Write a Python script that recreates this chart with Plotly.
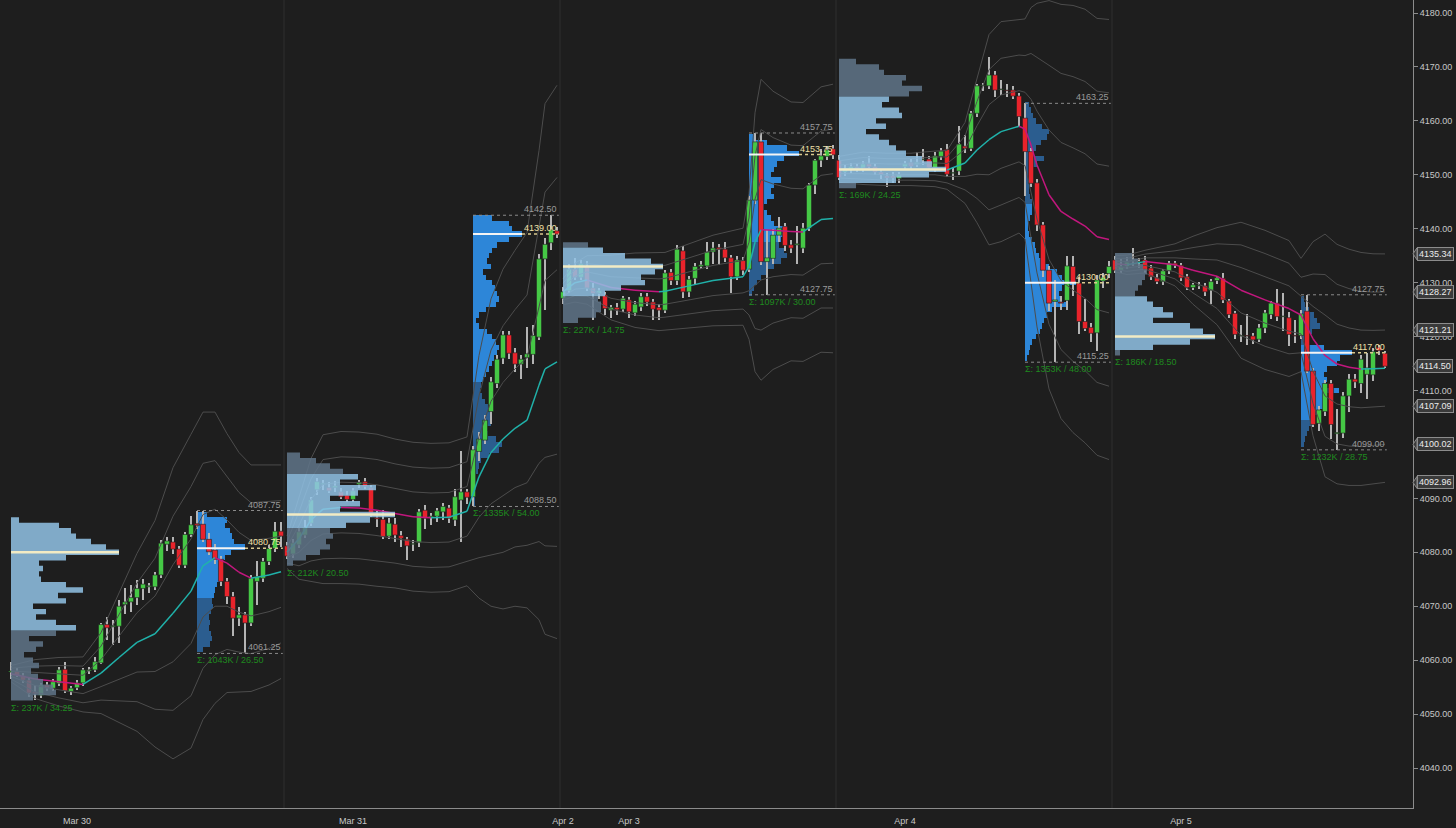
import plotly.graph_objects as go

# ---------------- layout of the data ----------------
session_start = [0, 46, 92, 138, 184]      # first 30-min bar of each session (18:00)
rth_offset = 31                            # 09:30 bar inside a session
tick_pos = [11, 57, 92, 103, 149, 195]
tick_text = ["Mar 30", "Mar 31", "Apr 2", "Apr 3", "Apr 4", "Apr 5"]

# ---------------- OHLC (30 min bars) ----------------
s1_o = [4057.8,4058.0,4057.1,4056.3,4054.1,4053.5,4055.4,4054.8,4055.7,4058.3,4054.2,4054.9,4055.8,4058.0,4058.2,4059.5,4066.6,4066.2,4066.3,4070.3,4070.8,4071.6,4073.3,4073.6,4073.6,4075.8,4081.5,4081.9,4080.6,4077.6,4083.3,4085.3,4085.2,4082.4,4080.4,4078.7,4074.6,4071.8,4067.8,4068.4,4066.9,4074.6,4075.2,4078.3,4080.7,4083.9]
s1_h = [4059.6,4058.6,4057.6,4056.8,4055.4,4055.8,4056.0,4056.6,4058.8,4059.7,4055.3,4056.3,4058.6,4058.7,4060.5,4066.9,4068.0,4067.4,4071.2,4073.4,4074.0,4074.8,4075.0,4074.4,4076.3,4082.3,4082.9,4082.8,4081.2,4083.8,4086.8,4087.6,4087.75,4083.5,4081.5,4079.4,4075.3,4072.6,4069.8,4069.0,4075.8,4078.4,4079.0,4081.4,4085.6,4085.6]
s1_l = [4056.6,4056.8,4055.8,4053.2,4052.6,4052.9,4054.3,4054.3,4055.2,4053.9,4053.6,4054.5,4055.3,4057.4,4057.8,4059.2,4063.7,4062.8,4063.2,4068.5,4069.0,4070.2,4071.2,4072.4,4073.0,4075.2,4080.2,4079.6,4077.0,4077.0,4082.8,4084.4,4081.9,4079.5,4077.9,4073.7,4070.5,4064.5,4066.4,4061.25,4066.3,4070.2,4074.5,4077.6,4080.1,4081.0]
s1_c = [4058.0,4057.2,4056.3,4053.9,4053.8,4055.4,4054.8,4056.0,4058.2,4054.3,4054.8,4055.8,4058.2,4058.2,4059.7,4066.6,4066.0,4066.4,4070.0,4070.8,4071.6,4073.3,4074.1,4073.8,4075.8,4081.7,4082.1,4080.6,4077.6,4083.3,4085.1,4085.0,4082.4,4080.1,4078.7,4074.6,4071.8,4067.8,4068.4,4066.9,4075.2,4075.5,4078.3,4080.7,4083.9,4083.0]

s2_o = [4081.2,4079.7,4081.4,4083.2,4085.4,4091.6,4092.6,4092.0,4092.0,4091.2,4090.6,4089.8,4092.6,4093.1,4092.0,4086.4,4086.1,4083.0,4085.2,4083.1,4082.4,4081.5,4081.8,4087.8,4086.5,4086.7,4087.5,4088.2,4086.0,4089.7,4091.2,4090.3,4098.7,4100.8,4106.1,4111.3,4116.0,4120.3,4117.0,4114.9,4116.1,4116.7,4119.9,4134.4,4137.4,4139.6]
s2_h = [4082.0,4082.5,4084.5,4086.0,4090.3,4093.8,4093.5,4093.0,4093.3,4092.0,4091.3,4092.0,4093.5,4093.8,4092.5,4087.6,4087.8,4086.3,4086.3,4084.0,4082.9,4082.3,4088.0,4088.8,4087.3,4088.2,4089.2,4088.8,4091.7,4098.7,4091.8,4099.8,4102.3,4105.5,4112.5,4116.5,4121.0,4121.0,4117.8,4116.5,4121.8,4122.2,4135.3,4138.3,4142.5,4140.3]
s2_l = [4078.8,4079.0,4080.8,4082.6,4084.8,4090.6,4091.5,4091.0,4091.2,4089.9,4089.3,4089.3,4092.0,4091.8,4086.5,4084.7,4082.5,4082.4,4082.0,4081.0,4078.6,4080.2,4081.0,4084.3,4085.0,4085.6,4086.0,4085.4,4084.8,4082.0,4089.0,4088.5,4097.0,4100.0,4103.7,4110.5,4115.0,4115.9,4113.5,4112.2,4114.1,4115.0,4119.4,4125.0,4136.0,4138.3]
s2_c = [4079.3,4081.7,4083.8,4084.6,4089.7,4093.1,4092.8,4091.4,4092.3,4090.3,4089.8,4091.4,4093.0,4092.2,4087.1,4086.2,4082.9,4085.4,4083.2,4082.6,4081.2,4081.6,4087.5,4086.3,4086.7,4087.7,4088.5,4086.3,4090.3,4091.2,4090.2,4099.0,4101.0,4104.5,4111.6,4115.8,4120.3,4116.9,4114.9,4115.8,4116.8,4120.2,4134.4,4137.1,4139.8,4139.0]

s3_o = [4127.1,4128.5,4132.5,4131.0,4133.0,4129.0,4128.0,4127.7,4124.9,4125.4,4125.1,4126.8,4124.4,4125.5,4127.4,4126.4,4125.4,4124.9,4131.9,4130.4,4135.9,4128.3,4130.8,4133.0,4133.1,4135.7,4136.5,4136.2,4134.6,4131.1,4134.1,4132.5,4145.3,4156.1,4133.9,4134.5,4138.8,4140.4,4137.0,4137.0,4136.4,4140.1,4148.1,4152.7,4153.4,4154.8]
s3_h = [4129.2,4133.5,4134.5,4134.2,4134.0,4130.0,4129.0,4128.2,4125.9,4126.2,4127.6,4127.4,4126.6,4128.0,4128.0,4127.0,4126.0,4132.3,4132.6,4137.0,4136.8,4131.2,4133.6,4134.0,4137.5,4137.5,4137.2,4137.6,4135.2,4135.0,4134.8,4146.0,4157.75,4157.75,4139.7,4140.0,4142.2,4141.0,4138.0,4140.5,4141.0,4148.5,4153.0,4154.8,4155.3,4155.5]
s3_l = [4126.0,4128.0,4130.5,4130.5,4128.5,4123.0,4127.0,4124.0,4123.5,4124.0,4124.5,4123.5,4123.8,4124.8,4125.6,4123.0,4123.0,4124.3,4129.5,4129.6,4127.2,4127.4,4129.8,4132.5,4132.5,4133.5,4133.3,4133.8,4128.0,4130.5,4131.5,4131.9,4144.5,4133.2,4127.75,4133.5,4137.5,4135.8,4135.5,4133.5,4135.5,4139.5,4146.5,4151.5,4152.8,4153.0]
s3_c = [4128.3,4132.5,4131.0,4133.5,4129.0,4128.0,4128.5,4125.2,4125.4,4125.0,4127.1,4124.6,4126.0,4127.4,4126.4,4125.1,4124.9,4131.8,4130.4,4136.2,4128.3,4130.6,4133.0,4133.3,4135.7,4136.4,4136.2,4134.6,4131.1,4134.2,4132.3,4145.3,4156.1,4133.9,4134.6,4138.8,4140.1,4136.9,4136.4,4137.2,4140.1,4148.1,4152.7,4153.5,4154.6,4153.7]

s4_o = [4152.7,4150.5,4151.0,4151.5,4151.0,4152.0,4151.5,4150.5,4149.8,4149.8,4149.3,4151.5,4152.3,4151.9,4152.8,4152.9,4151.3,4153.4,4154.7,4150.3,4150.7,4155.3,4154.9,4161.4,4166.5,4166.5,4168.5,4165.8,4165.7,4165.7,4164.6,4160.5,4154.3,4148.5,4140.7,4132.3,4126.5,4126.4,4126.7,4133.0,4129.9,4122.8,4121.7,4120.7,4130.3,4131.7]
s4_h = [4153.6,4151.8,4152.2,4152.0,4152.6,4153.5,4152.0,4151.0,4150.4,4150.6,4150.6,4152.6,4152.9,4154.2,4154.8,4153.4,4154.2,4155.0,4155.8,4151.5,4159.0,4157.4,4161.8,4166.8,4167.0,4171.8,4169.2,4167.6,4166.8,4166.4,4165.2,4163.25,4155.0,4149.2,4141.3,4133.0,4130.5,4127.5,4135.0,4135.0,4131.0,4127.0,4122.5,4131.5,4131.8,4134.0]
s4_l = [4149.0,4149.8,4150.4,4150.6,4150.5,4151.0,4150.0,4149.2,4147.7,4148.4,4148.5,4150.8,4151.0,4151.4,4151.8,4150.8,4150.5,4152.8,4149.5,4149.0,4150.0,4154.0,4154.4,4160.8,4165.5,4166.0,4164.5,4164.8,4164.5,4164.0,4158.8,4146.0,4147.8,4139.5,4131.0,4124.8,4115.25,4125.0,4125.0,4127.5,4120.5,4121.0,4119.0,4117.3,4129.0,4130.8]
s4_c = [4149.5,4151.0,4151.5,4151.0,4152.0,4151.5,4150.5,4150.0,4149.4,4149.4,4150.0,4152.1,4151.6,4152.3,4152.9,4151.3,4153.5,4154.4,4150.1,4150.4,4155.7,4154.9,4161.4,4166.5,4166.6,4168.5,4165.7,4165.9,4165.6,4164.6,4160.8,4154.3,4148.4,4140.7,4132.3,4126.2,4126.8,4126.2,4133.1,4130.0,4122.8,4121.5,4120.6,4130.5,4131.0,4133.0]

s5_o = [4134.2,4132.3,4133.0,4134.0,4133.8,4134.2,4132.7,4130.9,4130.2,4132.2,4133.6,4133.2,4131.1,4129.1,4129.4,4129.4,4128.6,4130.4,4130.8,4126.6,4124.3,4120.1,4120.2,4120.1,4119.5,4121.6,4124.1,4126.2,4123.7,4123.5,4120.2,4120.2,4124.7,4113.6,4103.9,4106.1,4111.3,4102.0,4102.1,4109.0,4112.1,4111.3,4113.0,4112.9,4118.0,4116.9]
s5_h = [4135.0,4134.3,4134.8,4136.5,4134.5,4135.0,4133.2,4131.6,4132.6,4134.0,4134.0,4133.6,4131.6,4130.0,4130.2,4129.9,4130.6,4131.3,4131.8,4127.0,4124.8,4122.2,4124.2,4120.6,4122.4,4125.0,4126.6,4128.8,4128.0,4124.5,4123.0,4125.0,4127.75,4114.2,4107.2,4112.0,4112.0,4106.5,4109.8,4113.0,4113.0,4116.5,4117.0,4117.8,4118.4,4117.4]
s5_l = [4131.8,4131.8,4132.5,4133.0,4132.8,4131.8,4130.5,4129.7,4129.5,4131.6,4132.8,4130.4,4128.6,4128.7,4128.9,4127.5,4126.0,4129.8,4126.2,4123.5,4119.6,4119.0,4118.5,4118.6,4119.0,4120.7,4123.2,4122.8,4121.0,4118.2,4118.8,4119.5,4113.2,4103.2,4102.5,4105.2,4101.0,4099.0,4101.2,4106.0,4110.4,4109.5,4108.5,4111.8,4116.6,4114.2]
s5_c = [4132.3,4133.0,4133.8,4134.2,4133.9,4132.3,4131.1,4130.2,4132.2,4133.6,4133.2,4130.9,4129.1,4129.6,4129.5,4128.3,4130.2,4130.9,4126.8,4124.1,4120.4,4120.2,4120.1,4119.4,4121.6,4124.4,4126.2,4123.7,4123.8,4120.4,4120.1,4124.2,4113.6,4103.7,4106.4,4111.3,4103.7,4102.2,4109.0,4112.1,4111.6,4115.8,4114.2,4117.2,4117.4,4114.5]

# ---------------- session VWAP and standard deviation (read at bar offsets) ----------------
vw_idx1 = [0, 4, 8, 12, 15, 18, 21, 24, 27, 30, 32, 34, 36, 38, 40, 43, 45]
vw1 = [4057.5, 4056.5, 4056.0, 4055.5, 4057.6, 4060.5, 4063.3, 4064.9, 4068.7, 4072.8, 4077.5, 4079.0, 4078.0, 4076.3, 4075.2, 4075.8, 4076.4]
sd1 = [0.5, 1.2, 1.5, 1.7, 2.5, 4.0, 5.5, 7.0, 9.0, 9.7, 9.5, 9.0, 8.0, 7.4, 7.0, 6.8, 6.6]
vw_idx2 = [0, 2, 4, 6, 9, 12, 15, 18, 21, 24, 27, 30, 32, 34, 36, 38, 40, 42, 43, 45]
vw2 = [4080.0, 4082.5, 4086.0, 4088.0, 4088.3, 4088.2, 4087.8, 4087.2, 4086.6, 4086.4, 4086.5, 4087.6, 4094.0, 4098.5, 4101.0, 4103.0, 4104.5, 4111.0, 4114.0, 4115.3]
sd2 = [1.0, 2.5, 3.8, 4.6, 4.7, 4.7, 4.7, 4.6, 4.6, 4.6, 4.6, 4.6, 7.5, 9.5, 10.5, 11.0, 11.6, 14.5, 16.4, 17.1]
vw_idx3 = [0, 2, 4, 8, 12, 16, 17, 21, 25, 30, 31, 32, 33, 35, 38, 40, 43, 45]
vw3 = [4128.3, 4130.0, 4130.5, 4129.1, 4128.6, 4128.3, 4128.4, 4129.4, 4130.4, 4131.1, 4133.0, 4137.5, 4139.8, 4139.7, 4139.5, 4139.4, 4141.7, 4141.9]
sd3 = [0.8, 1.2, 1.5, 2.0, 2.3, 2.4, 2.4, 2.6, 2.8, 3.0, 4.5, 8.0, 9.3, 8.6, 8.0, 8.0, 8.2, 8.3]
vw_idx4 = [0, 4, 8, 12, 16, 18, 21, 23, 25, 27, 30, 31, 32, 33, 35, 37, 39, 41, 43, 45]
vw4 = [4151.0, 4151.2, 4151.0, 4151.0, 4151.1, 4150.9, 4152.2, 4154.6, 4156.5, 4158.0, 4159.0, 4158.5, 4155.5, 4151.8, 4146.3, 4143.2, 4141.8, 4140.5, 4138.5, 4138.0]
sd4 = [0.8, 1.0, 1.0, 1.0, 1.1, 1.2, 2.5, 4.5, 6.5, 6.8, 6.6, 6.8, 8.5, 10.0, 12.0, 12.8, 13.2, 13.4, 13.5, 13.6]
vw_idx5 = [0, 2, 5, 10, 13, 17, 21, 25, 29, 31, 33, 35, 37, 39, 41, 43, 45]
vw5 = [4133.5, 4133.3, 4133.9, 4133.3, 4132.3, 4131.2, 4128.6, 4126.8, 4125.2, 4124.0, 4119.6, 4116.5, 4114.9, 4114.3, 4114.0, 4114.05, 4114.15]
sd5 = [0.5, 0.6, 0.7, 1.3, 2.1, 3.0, 4.2, 4.3, 4.2, 3.5, 6.0, 7.5, 7.4, 7.3, 7.2, 7.1, 7.06]

# ---------------- volume profiles (1-point rows, top price first, relative volume) ----------------
eth_top = [4086, 4098, 4137, 4171, 4135]
eth_vol1 = [8, 48, 60, 65, 80, 95, 108, 55, 28, 32, 28, 30, 55, 72, 47, 55, 22, 35, 25, 45, 65, 45, 18, 32, 25, 13, 22, 28, 20, 27, 32, 42, 45, 22]
eth_vol2 = [13, 29, 43, 56, 71, 53, 89, 71, 43, 73, 53, 108, 83, 59, 43, 46, 39, 43, 33, 19, 6]
eth_vol3 = [25, 40, 62, 88, 100, 92, 78, 82, 58, 42, 35, 38, 38, 33, 15]
eth_vol4 = [17, 40, 45, 67, 63, 83, 70, 50, 43, 60, 63, 37, 47, 27, 40, 50, 57, 67, 83, 93, 107, 90, 57, 17]
eth_vol5 = [17, 23, 28, 32, 30, 27, 23, 20, 32, 38, 48, 58, 38, 75, 88, 100, 75, 38, 5]
eth_va_hi = [4086, 4094, 4136, 4164, 4127]
eth_va_lo = [4066, 4085, 4128, 4149, 4118]

rth_top = [4087, 4142, 4157, 4163, 4127]
rth_vol1 = [10, 30, 28, 33, 35, 37, 48, 34, 28, 24, 23, 22, 24, 20, 18, 17, 15, 16, 14, 12, 13, 12, 14, 15, 13, 6]
rth_vol2 = [19, 36, 39, 49, 36, 24, 19, 16, 14, 18, 10, 13, 19, 22, 24, 26, 23, 13, 6, 3, 6, 14, 19, 23, 26, 24, 21, 19, 16, 13, 10, 8, 7, 9, 12, 15, 18, 19, 18, 13, 15, 23, 29, 26, 16, 8, 6, 5, 3, 3, 3, 2, 2, 2]
rth_vol3 = [5, 18, 38, 50, 35, 28, 25, 22, 32, 25, 22, 25, 18, 15, 18, 22, 25, 38, 35, 32, 30, 35, 38, 32, 25, 18, 12, 8, 5, 3]
rth_vol4 = [4, 6, 8, 11, 17, 24, 22, 16, 11, 9, 19, 12, 7, 4, 4, 4, 4, 5, 7, 7, 7, 5, 3, 3, 4, 7, 10, 11, 14, 18, 24, 32, 37, 51, 37, 34, 37, 41, 27, 22, 19, 17, 15, 11, 7, 5, 4, 2]
rth_vol5 = [3, 4, 8, 13, 16, 19, 11, 8, 6, 23, 51, 39, 36, 26, 23, 26, 23, 38, 26, 24, 26, 19, 14, 11, 8, 6, 4, 3]
rth_va_hi = [4087, 4142, 4157, 4144, 4118]
rth_va_lo = [4072, 4112, 4138, 4116, 4105]

rth_hi = [4087.75, 4142.50, 4157.75, 4163.25, 4127.75]
rth_lo = [4061.25, 4088.50, 4127.75, 4115.25, 4099.00]
rth_poc = [4080.75, 4139.00, 4153.75, 4130.00, 4117.00]
eth_sum = ["Σ: 237K / 34.25", "Σ: 212K / 20.50", "Σ: 227K / 14.75", "Σ: 169K / 24.25", "Σ: 186K / 18.50"]
rth_sum = ["Σ: 1043K / 26.50", "Σ: 1335K / 54.00", "Σ: 1097K / 30.00", "Σ: 1353K / 48.00", "Σ: 1232K / 28.75"]

callouts = [4135.34, 4128.27, 4121.21, 4114.50, 4107.09, 4100.02, 4092.96]

# ---------------- styling ----------------
BG = "#1e1e1e"
FONT = "Liberation Sans, Arial, sans-serif"
UP, DN = "#45c845", "#e8232b"
Y0, Y1 = 4032.59, 4182.41
X0, X1 = -1.833, 233.667
PX_PER_BAR = 6.0

opens = s1_o + s2_o + s3_o + s4_o + s5_o
highs = s1_h + s2_h + s3_h + s4_h + s5_h
lows = s1_l + s2_l + s3_l + s4_l + s5_l
closes = s1_c + s2_c + s3_c + s4_c + s5_c
ks = list(range(len(opens)))

vw_idx = [vw_idx1, vw_idx2, vw_idx3, vw_idx4, vw_idx5]
vws = [vw1, vw2, vw3, vw4, vw5]
sds = [sd1, sd2, sd3, sd4, sd5]
eth_vols = [eth_vol1, eth_vol2, eth_vol3, eth_vol4, eth_vol5]
rth_vols = [rth_vol1, rth_vol2, rth_vol3, rth_vol4, rth_vol5]

fig = go.Figure()


def line(x, y, color, width=1, dash=None):
    fig.add_trace(go.Scatter(x=x, y=y, mode="lines",
                             line=dict(color=color, width=width, dash=dash),
                             hoverinfo="skip", showlegend=False))


# ---- bar layer (drawn beneath all line traces): RTH profiles, wicks, bodies ----
for s in range(5):
    start = session_start[s] + rth_offset
    prices = [rth_top[s] - i for i in range(len(rth_vols[s]))]
    cols = ["#2d86d8" if rth_va_lo[s] <= p <= rth_va_hi[s] else "#2b5d8f" for p in prices]
    fig.add_trace(go.Bar(orientation="h", y=prices, x=[v / PX_PER_BAR for v in rth_vols[s]],
                         base=start, width=1.0, opacity=1,
                         marker=dict(color=cols, line=dict(width=0)),
                         hoverinfo="skip", showlegend=False))

fig.add_trace(go.Bar(x=ks, y=[h - l for h, l in zip(highs, lows)], base=lows, width=0.18,
                     opacity=1, marker=dict(color="#b4b4b4", line=dict(width=0)),
                     hoverinfo="skip", showlegend=False))
fig.add_trace(go.Bar(x=ks, y=[abs(c - o) for o, c in zip(opens, closes)],
                     base=[min(o, c) for o, c in zip(opens, closes)], width=0.85, opacity=1,
                     marker=dict(color=[UP if c >= o else DN for o, c in zip(opens, closes)],
                                 line=dict(color="#202020", width=0.6)),
                     hoverinfo="skip", showlegend=False))

# ---- std-dev bands ----
for m in (1, 2, 3):
    for sgn in (1, -1):
        xs, ys = [], []
        for s in range(5):
            for i, v, d in zip(vw_idx[s], vws[s], sds[s]):
                xs.append(session_start[s] + i)
                ys.append(v + sgn * m * d)
            xs.append(None)
            ys.append(None)
        line(xs, ys, "#4c4c4c", 1)

# ---- VWAP coloured by slope ----
ux, uy, dx, dy = [], [], [], []
for s in range(5):
    idx, v = vw_idx[s], vws[s]
    for a in range(len(idx) - 1):
        sx = [session_start[s] + idx[a], session_start[s] + idx[a + 1], None]
        sy = [v[a], v[a + 1], None]
        if v[a + 1] >= v[a]:
            ux += sx; uy += sy
        else:
            dx += sx; dy += sy
line(ux, uy, "#20b2aa", 1.5)
line(dx, dy, "#c2177e", 1.5)


# ---- ETH profiles drawn in front as translucent step polygons ----
def region_poly(start, rows):
    xs, ys = [start], [rows[0][0] + 0.5]
    for p, L in rows:
        xs += [start + L, start + L]
        ys += [p + 0.5, p - 0.5]
    xs += [start, start, None]
    ys += [rows[-1][0] - 0.5, rows[0][0] + 0.5, None]
    return xs, ys


ann = []
in_x, in_y, out_x, out_y = [], [], [], []
poc_lines = []
for s in range(5):
    ss = session_start[s]
    prices = [eth_top[s] - i for i in range(len(eth_vols[s]))]
    groups = []
    for p, v in zip(prices, eth_vols[s]):
        inside = eth_va_lo[s] <= p <= eth_va_hi[s]
        if groups and groups[-1][0] == inside:
            groups[-1][1].append((p, v / PX_PER_BAR))
        else:
            groups.append((inside, [(p, v / PX_PER_BAR)]))
    for inside, rows in groups:
        gx, gy = region_poly(ss, rows)
        if inside:
            in_x += gx; in_y += gy
        else:
            out_x += gx; out_y += gy
    vmax = max(eth_vols[s])
    poc_p = prices[eth_vols[s].index(vmax)]
    poc_lines.append(([ss, ss + vmax / PX_PER_BAR], [poc_p, poc_p]))
    ann.append(dict(x=ss - 0.3, y=prices[-1] - 0.5, text=eth_sum[s], xanchor="left", yanchor="top",
                    font=dict(color="#1f8a1f", size=9, family=FONT), showarrow=False))

fig.add_trace(go.Scatter(x=out_x, y=out_y, mode="lines", fill="toself",
                         fillcolor="rgba(96,118,138,0.85)", line=dict(width=0),
                         hoverinfo="skip", showlegend=False))
fig.add_trace(go.Scatter(x=in_x, y=in_y, mode="lines", fill="toself",
                         fillcolor="rgba(146,195,230,0.85)", line=dict(width=0),
                         hoverinfo="skip", showlegend=False))
for px_, py_ in poc_lines:
    line(px_, py_, "#f2ebc4", 2.5)

# ---- RTH lines and labels ----
for s in range(5):
    rs = session_start[s] + rth_offset
    end = session_start[s] + 45 + 0.3
    rmax = max(rth_vols[s])
    line([rs, end], [rth_hi[s], rth_hi[s]], "#8a8a8a", 1, "dot")
    line([rs, end], [rth_lo[s], rth_lo[s]], "#8a8a8a", 1, "dot")
    line([rs, rs + rmax / PX_PER_BAR], [rth_poc[s], rth_poc[s]], "#f4f4f4", 2)
    line([rs + rmax / PX_PER_BAR, end], [rth_poc[s], rth_poc[s]], "#d9c98f", 1.5, "dot")
    for val, col in ((rth_hi[s], "#9a9a9a"), (rth_lo[s], "#9a9a9a"), (rth_poc[s], "#f0e0a8")):
        ann.append(dict(x=end, y=val, text=f"{val:.2f}", xanchor="right", yanchor="bottom",
                        font=dict(color=col, size=9, family=FONT), showarrow=False, yshift=-1))
    ann.append(dict(x=rs - 0.3, y=rth_lo[s], text=rth_sum[s], xanchor="left", yanchor="top",
                    font=dict(color="#1f8a1f", size=9, family=FONT), showarrow=False))

# ---- session separators ----
shapes = []
for s in range(1, 5):
    xs_ = session_start[s] - 0.5
    shapes.append(dict(type="line", xref="x", yref="paper", x0=xs_, x1=xs_, y0=0, y1=1,
                       line=dict(color="#2f2f2f", width=1), layer="below"))

# ---- right-hand price callouts ----
aw = 4 / 1413.0
for v in callouts:
    py = (v - Y0) / (Y1 - Y0)
    h = 6.0 / 808.0
    shapes.append(dict(type="path", xref="paper", yref="paper",
                       path=f"M 1,{py} L {1 + aw},{py + h} L {1 + aw},{py - h} Z",
                       fillcolor="#3a3a3a", line=dict(color="#8c8c8c", width=1)))
    ann.append(dict(x=1, xref="paper", y=v, text=f"{v:.2f}", xanchor="left", yanchor="middle",
                    xshift=4, showarrow=False, bgcolor="#3a3a3a", bordercolor="#8c8c8c",
                    borderwidth=1, borderpad=1, font=dict(color="#ececec", size=9, family=FONT)))

fig.update_layout(
    width=1456, height=828,
    margin=dict(l=0, r=43, t=0, b=20, autoexpand=False),
    paper_bgcolor=BG, plot_bgcolor=BG,
    barmode="overlay", bargap=0, hovermode=False, showlegend=False,
    font=dict(family=FONT, color="#c8c8c8", size=9),
    annotations=ann, shapes=shapes,
    xaxis=dict(range=[X0, X1], tickvals=tick_pos, ticktext=tick_text, showgrid=False,
               zeroline=False, showline=True, linecolor="#8c8c8c", linewidth=1,
               ticks="", ticklabelstandoff=4,
               tickfont=dict(size=9, color="#c8c8c8", family=FONT), fixedrange=True),
    yaxis=dict(range=[Y0, Y1], side="right", dtick=10, tick0=4040, tickformat=".2f",
               showgrid=False, zeroline=False, showline=True, linecolor="#8c8c8c", linewidth=1,
               ticks="outside", ticklen=4, tickcolor="#8c8c8c",
               tickfont=dict(size=9, color="#c8c8c8", family=FONT), fixedrange=True),
)

fig.write_html("out.html",
               config={"displayModeBar": False, "staticPlot": True},
               post_script="document.body.style.margin='0';document.body.style.overflow='hidden';"
                           "document.body.style.background='#1e1e1e';")
